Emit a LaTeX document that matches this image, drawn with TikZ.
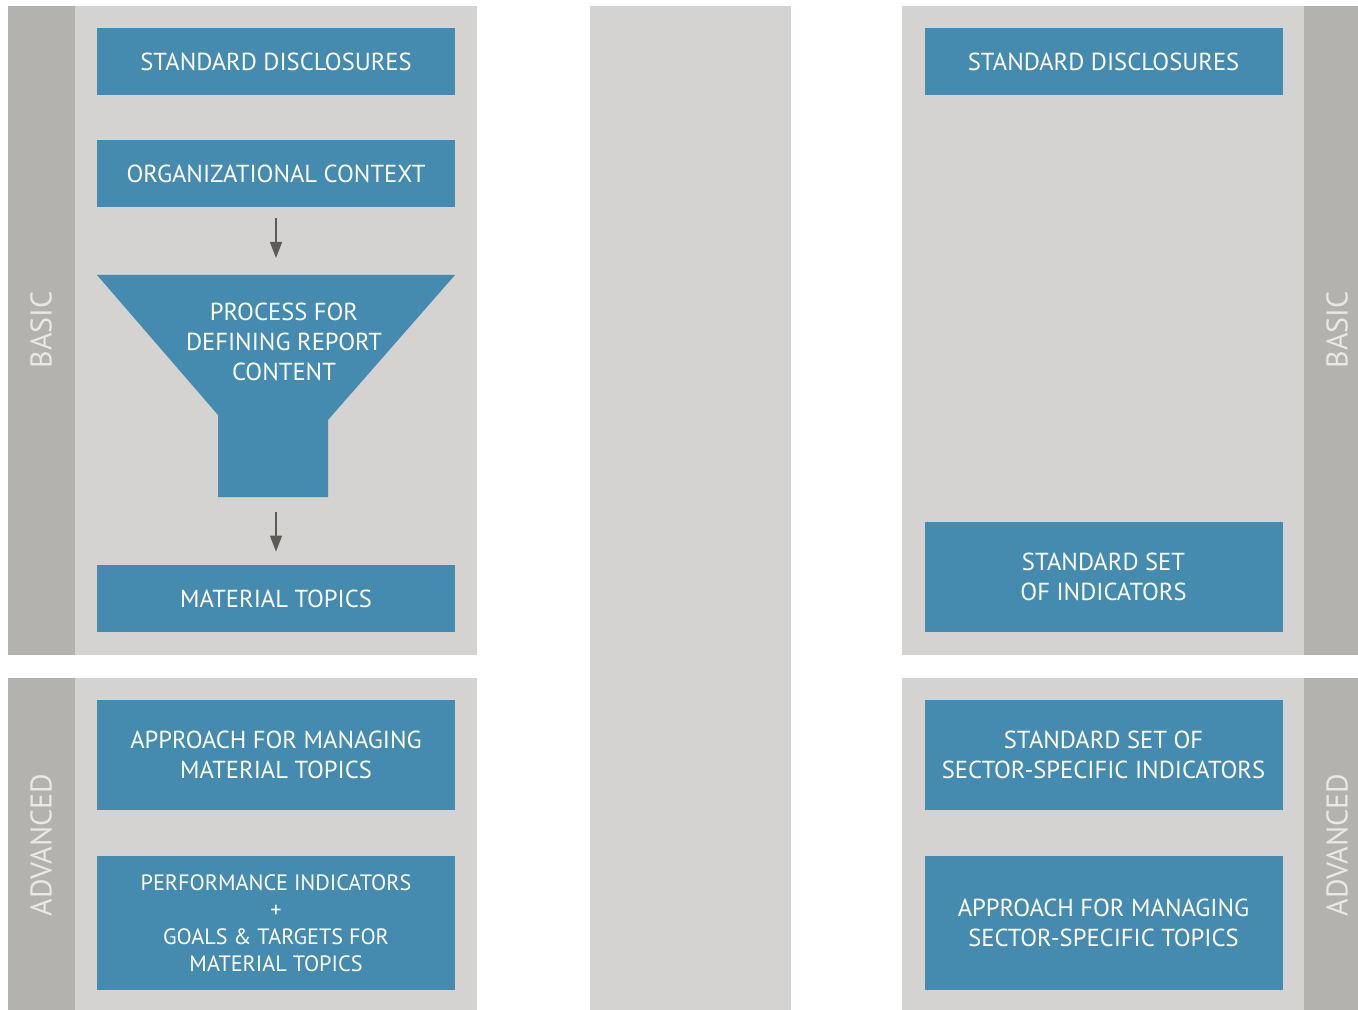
\documentclass[tikz,border=0pt]{standalone}
\usepackage{fontspec}
\setmainfont{PT Sans}
\usetikzlibrary{arrows.meta}
\definecolor{griblue}{HTML}{458BB0}
\definecolor{panelgray}{HTML}{D4D3D1}
\definecolor{bandgray}{HTML}{B4B2AE}
\definecolor{levelgray}{HTML}{E9E8E6}
\definecolor{arrowgray}{HTML}{5C5B56}
\tikzstyle{panel} = [fill=panelgray]
\tikzstyle{band} = [fill=bandgray]
\tikzstyle{topic} = [rectangle, text centered, align=center, fill=griblue, text=white, minimum width=179pt, inner sep=0pt, font=\fontsize{12.3}{15}\selectfont]
\tikzstyle{smalltopic} = [topic, font=\fontsize{11.1}{13.5}\selectfont]
\tikzstyle{level} = [rotate=90, text=levelgray, font=\fontsize{15}{18}\selectfont]
\tikzstyle{arrow} = [line width=0.7pt, draw=arrowgray, -{Triangle[width=6pt,length=8pt]}]

\begin{document}
\begin{tikzpicture}[x=0.5pt, y=-0.5pt, node distance=56pt]
    \useasboundingbox[fill=white] (0,0) rectangle (1358,1010);

    % panels and bands
    \fill[panel] (8,6) rectangle (477,655);
    \fill[band] (8,6) rectangle (75,655);
    \fill[panel] (8,678) rectangle (477,1010);
    \fill[band] (8,678) rectangle (75,1010);
    \fill[panel] (590,6) rectangle (791,1010);
    \fill[panel] (902,6) rectangle (1358,655);
    \fill[band] (1304,6) rectangle (1358,655);
    \fill[panel] (902,678) rectangle (1358,1010);
    \fill[band] (1304,678) rectangle (1358,1010);

    \node (basicL) [level] at (41,330) {BASIC};
    \node (advL) [level] at (41,845) {ADVANCED};
    \node (basicR) [level] at (1337,330) {BASIC};
    \node (advR) [level] at (1337,845) {ADVANCED};

    % left column
    \node (discl) [topic, minimum height=33.5pt] at (276,61.5) {STANDARD DISCLOSURES};
    \node (context) [topic, minimum height=33.5pt, below of=discl] {ORGANIZATIONAL CONTEXT};

    \fill[griblue] (97,275) -- (455,275) -- (328,420) -- (328,497) -- (218,497) -- (218,415) -- cycle;
    \coordinate (funtop) at (276,275);
    \coordinate (funbot) at (276,497);
    \node (process) [align=center, text=white, font=\fontsize{12.3}{15}\selectfont] at (284,342) {PROCESS FOR\\DEFINING REPORT\\CONTENT};

    \node (topics) [topic, minimum height=33.5pt] at (276,598.5) {MATERIAL TOPICS};
    \node (approach) [topic, minimum height=55pt] at (276,755) {APPROACH FOR MANAGING\\MATERIAL TOPICS};
    \node (perf) [smalltopic, minimum height=67pt] at (276,923) {PERFORMANCE INDICATORS\\+\\GOALS \& TARGETS FOR\\MATERIAL TOPICS};

    \draw [arrow, shorten <=5.5pt, shorten >=8.5pt] (context) -- (funtop);
    \draw [arrow, shorten <=7.5pt, shorten >=6.5pt] (funbot) -- (topics);

    % right column
    \node (discl2) [topic, minimum height=33.5pt] at (1103.5,61.5) {STANDARD DISCLOSURES};
    \node (indic) [topic, minimum height=55pt] at (1103.5,576.5) {STANDARD SET\\OF INDICATORS};
    \node (sector) [topic, minimum height=55pt] at (1103.5,755) {STANDARD SET OF\\SECTOR-SPECIFIC INDICATORS};
    \node (approach2) [topic, minimum height=67pt] at (1103.5,923) {APPROACH FOR MANAGING\\SECTOR-SPECIFIC TOPICS};
\end{tikzpicture}
\end{document}
